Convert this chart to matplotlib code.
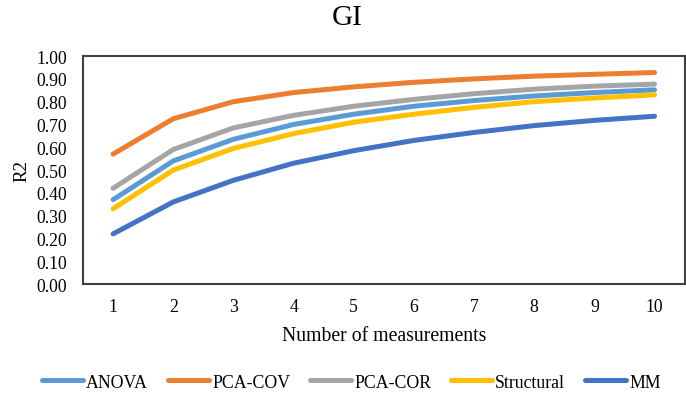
import matplotlib.pyplot as plt

plt.rcParams['font.family'] = ['Liberation Serif', 'DejaVu Serif']

measurements = [1, 2, 3, 4, 5, 6, 7, 8, 9, 10]
anova = [0.37, 0.54, 0.635, 0.70, 0.745, 0.78, 0.805, 0.825, 0.84, 0.852]
pca_cov = [0.57, 0.725, 0.80, 0.84, 0.865, 0.885, 0.90, 0.912, 0.92, 0.928]
pca_cor = [0.42, 0.59, 0.685, 0.74, 0.78, 0.81, 0.835, 0.855, 0.868, 0.877]
structural = [0.33, 0.50, 0.595, 0.66, 0.71, 0.745, 0.775, 0.80, 0.816, 0.83]
mm = [0.22, 0.36, 0.455, 0.53, 0.585, 0.63, 0.665, 0.695, 0.718, 0.736]

series = [
    ("ANOVA", anova, "#5B9BD5"),
    ("PCA-COV", pca_cov, "#ED7D31"),
    ("PCA-COR", pca_cor, "#A5A5A5"),
    ("Structural", structural, "#FFC000"),
    ("MM", mm, "#4472C4"),
]

fig = plt.figure(figsize=(6.86, 4.02), dpi=100)
ax = fig.add_axes([0.121, 0.291, 0.877, 0.567])

for name, vals, col in series:
    ax.plot(measurements, vals, color=col, lw=3.6, label=name,
            solid_capstyle="round", solid_joinstyle="round")

ax.set_xlim(0.5, 10.5)
ax.set_ylim(0, 1.0)
ax.set_xticks(measurements)
ax.set_yticks([i / 10 for i in range(11)])
ax.set_yticklabels([f"{i / 10:.2f}" for i in range(11)])
ax.tick_params(length=0, labelsize=12.7)
ax.tick_params(axis="y", pad=11.5)
ax.tick_params(axis="x", pad=10)
for s in ax.spines.values():
    s.set_color("#404040")
    s.set_linewidth(1.5)

ax.set_xlabel("Number of measurements", fontsize=14.2, labelpad=8)
ax.set_ylabel("R2", fontsize=13.6, labelpad=4)
fig.text(0.506, 0.955, "GI", fontsize=21, ha="center", va="center")

fig.legend(loc="center", bbox_to_anchor=(0.512, 0.047), ncol=5, frameon=False,
           fontsize=12.8, handlelength=2.3, handletextpad=0.2, columnspacing=1.1)

fig.savefig("out.png", dpi=100)
